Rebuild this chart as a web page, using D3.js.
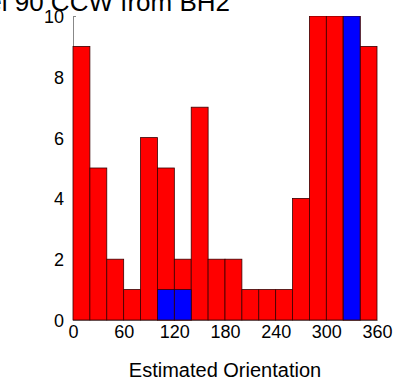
<!DOCTYPE html>
<html>
<head>
  <style>
    body { margin: 0; background: #fff; }
    svg text { font-family: Arial, "Liberation Sans", sans-serif; fill: #000; }
    .bar-red { fill: #ff0000; stroke: #3a0000; stroke-width: 0.8px; }
    .bar-blue { fill: #0000ff; stroke: #3a0000; stroke-width: 0.8px; }
  </style>
  <script src="https://d3js.org/d3.v7.min.js"></script>
</head>
<body>
  <svg id="chart" width="395" height="381"></svg>
  <script>
    // 18 bins of 20 degrees
    const binEdges = d3.range(0, 361, 20);
    const allCounts = [9, 5, 2, 1, 6, 5, 2, 7, 2, 2, 1, 1, 1, 4, 10, 10, 10, 9];
    const selCounts = [0, 0, 0, 0, 0, 1, 1, 0, 0, 0, 0, 0, 0, 0, 0, 0, 10, 0];
    const xTicks = [0, 60, 120, 180, 240, 300, 360];
    const yTicks = [0, 2, 4, 6, 8, 10];
    const titleText = "Model 90 CCW from BH2";
    const xLabel = "Estimated Orientation";

    const svg = d3.select('#chart');
    const x = d3.scaleLinear().domain([0, 360]).range([73, 377]);
    const y = d3.scaleLinear().domain([0, 10]).range([320, 16]);

    svg.append('clipPath').attr('id', 'plot-clip')
      .append('rect')
      .attr('x', x(0) - 1).attr('y', y(10))
      .attr('width', x(360) - x(0) + 2).attr('height', y(0) - y(10) + 2);

    // left axis
    const yAxis = svg.append('g')
      .attr('transform', `translate(${x(0)},0)`)
      .call(d3.axisLeft(y).tickValues(yTicks).tickSizeInner(-3).tickSizeOuter(0).tickPadding(9));
    yAxis.select('.domain').attr('stroke', '#888');
    yAxis.selectAll('.tick line').attr('stroke', '#888');
    yAxis.selectAll('text').style('font-size', '18px').attr('dy', '0.36em');

    const xAxis = svg.append('g')
      .attr('transform', `translate(0,${y(0)})`)
      .call(d3.axisBottom(x).tickValues(xTicks).tickSizeInner(0).tickSizeOuter(0).tickPadding(5));
    xAxis.select('.domain').attr('stroke', '#888');
    xAxis.selectAll('text').style('font-size', '18px');

    const bars = svg.append('g').attr('clip-path', 'url(#plot-clip)');

    bars.selectAll('rect.bar-red')
      .data(allCounts)
      .enter().append('rect')
      .attr('class', 'bar-red')
      .attr('x', (d, i) => x(binEdges[i]))
      .attr('width', (d, i) => x(binEdges[i + 1]) - x(binEdges[i]))
      .attr('y', d => y(d))
      .attr('height', d => y(0) - y(d));

    bars.selectAll('rect.bar-blue')
      .data(selCounts.map((d, i) => ({ v: d, i: i })).filter(d => d.v > 0))
      .enter().append('rect')
      .attr('class', 'bar-blue')
      .attr('x', d => x(binEdges[d.i]))
      .attr('width', d => x(binEdges[d.i + 1]) - x(binEdges[d.i]))
      .attr('y', d => y(d.v))
      .attr('height', d => y(0) - y(d.v));

    svg.append('text')
      .attr('x', 230).attr('y', 11)
      .attr('text-anchor', 'end')
      .style('font-size', '26px')
      .text(titleText);

    svg.append('text')
      .attr('x', x(180)).attr('y', 377)
      .attr('text-anchor', 'middle')
      .style('font-size', '20px')
      .text(xLabel);
  </script>
</body>
</html>
